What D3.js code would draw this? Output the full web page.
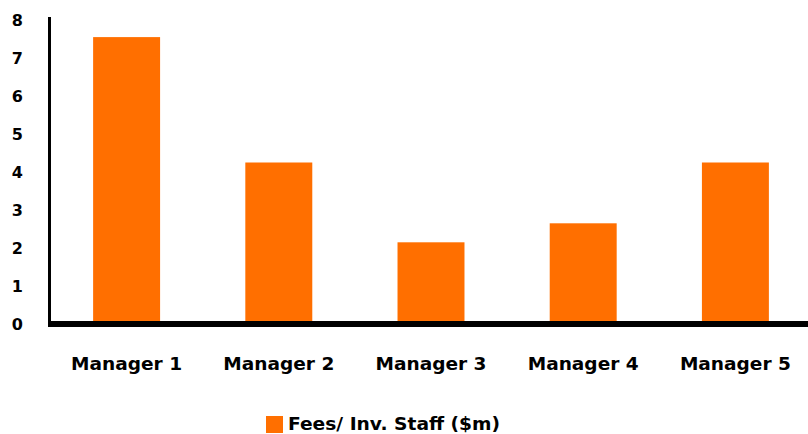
<!DOCTYPE html>
<html>
<head>
<meta charset="utf-8">
<script src="https://cdn.jsdelivr.net/npm/d3@7"></script>
<style>
  html, body { margin: 0; padding: 0; background: #fff; }
  svg { display: block; }
  text { font-family: "DejaVu Sans", sans-serif; font-weight: bold; fill: #000; }
</style>
</head>
<body>
<svg id="chart" width="808" height="434"></svg>
<script>
// Fees per investment staff member, by manager ($m)
const categories = ["Manager 1", "Manager 2", "Manager 3", "Manager 4", "Manager 5"];
const feesPerStaff = [7.55, 4.25, 2.15, 2.65, 4.25];
const yTicks = [0, 1, 2, 3, 4, 5, 6, 7, 8];
const seriesName = "Fees/ Inv. Staff ($m)";

const svg = d3.select("#chart");
const barColor = "#ff6f00";

const plot = { left: 50.5, right: 811.5, top: 20, bottom: 324 };

const x = d3.scaleBand()
  .domain(categories)
  .range([plot.left, plot.right])
  .paddingInner(0.56)
  .paddingOuter(0.28);

const y = d3.scaleLinear()
  .domain([0, 8])
  .range([plot.bottom, plot.top]);

// Bars
svg.append("g")
  .selectAll("rect")
  .data(categories)
  .join("rect")
  .attr("x", d => x(d))
  .attr("width", x.bandwidth())
  .attr("y", (d, i) => y(feesPerStaff[i]))
  .attr("height", (d, i) => y(0) - y(feesPerStaff[i]))
  .attr("fill", barColor);

// Y axis: vertical rule and tick labels
const yAxis = d3.axisLeft(y).tickValues(yTicks).tickSize(0).tickPadding(0).tickFormat(d3.format("d"));
const yg = svg.append("g")
  .attr("transform", "translate(23,0)")
  .call(yAxis);
yg.select(".domain").remove();
yg.selectAll("text")
  .attr("font-size", 16)
  .attr("font-family", "DejaVu Sans, sans-serif")
  .attr("font-weight", "bold")
  .attr("fill", "#000")
  .attr("dy", "0.35em")
  .attr("x", 0);

svg.append("line")
  .attr("x1", 49.5).attr("x2", 49.5)
  .attr("y1", 17).attr("y2", 327)
  .attr("stroke", "#000").attr("stroke-width", 3);

// X axis: heavy baseline and category labels
svg.append("line")
  .attr("x1", 48).attr("x2", 808)
  .attr("y1", y(0)).attr("y2", y(0))
  .attr("stroke", "#000").attr("stroke-width", 6);

const xAxis = d3.axisBottom(x).tickSize(0).tickPadding(0);
const xg = svg.append("g")
  .attr("transform", "translate(0,364)")
  .call(xAxis);
xg.select(".domain").remove();
xg.selectAll("text")
  .attr("font-size", 17)
  .attr("font-family", "DejaVu Sans, sans-serif")
  .attr("font-weight", "bold")
  .attr("fill", "#000")
  .attr("dy", "0.35em")
  .attr("textLength", 111)
  .attr("lengthAdjust", "spacingAndGlyphs");

// Legend
const legend = svg.append("g").attr("transform", "translate(266,416)");
legend.append("rect")
  .attr("width", 17).attr("height", 17)
  .attr("fill", barColor);
legend.append("text")
  .attr("x", 22).attr("y", 8.5)
  .attr("dy", "0.35em")
  .attr("font-size", 17)
  .attr("textLength", 212)
  .attr("lengthAdjust", "spacingAndGlyphs")
  .text(seriesName);
</script>
</body>
</html>
